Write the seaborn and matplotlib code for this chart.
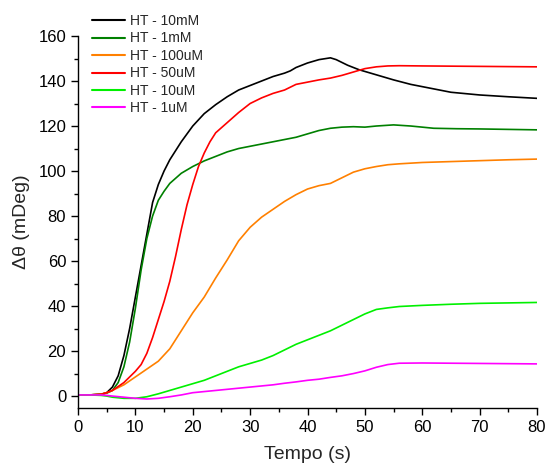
import matplotlib
matplotlib.use("Agg")
import matplotlib.pyplot as plt
import seaborn as sns
import pandas as pd
import numpy as np
from matplotlib.ticker import MultipleLocator

# ---- data ----
labels = ["HT - 10mM", "HT - 1mM", "HT - 100uM", "HT - 50uM", "HT - 10uM", "HT - 1uM"]
colors = ["#000000", "#008000", "#FF8000", "#FF0000", "#00F000", "#FF00FF"]

x_10mM = [0, 2, 4, 5, 6, 7, 8, 9, 10, 11, 12, 13, 14, 15, 16, 17, 18, 20, 22, 24, 26, 28, 30, 32, 34, 36, 37, 38, 40, 42, 44, 45, 47, 49, 51, 53, 55, 58, 61, 65, 70, 75, 80]
y_10mM = [0.5, 0.5, 0.8, 1.5, 4, 9, 18, 30, 44, 58, 72, 86, 94, 100, 105, 109, 113, 120, 125.5, 129.5, 133, 136, 138, 140, 142, 143.5, 144.5, 146, 148, 149.5, 150.3, 149.5, 147, 145, 143.5, 142, 140.5, 138.5, 137, 135, 133.8, 133, 132.3]

x_1mM = [0, 2, 4, 5, 6, 7, 8, 9, 10, 11, 12, 13, 14, 15, 16, 18, 20, 22, 24, 26, 28, 30, 32, 34, 36, 38, 40, 42, 44, 46, 48, 50, 52, 55, 58, 62, 66, 70, 75, 80]
y_1mM = [0.5, 0.5, 0.8, 1.3, 2.5, 6, 13, 24, 39, 56, 70, 80, 87, 91, 94.5, 99, 102, 104.5, 106.5, 108.5, 110, 111, 112, 113, 114, 115, 116.5, 118, 119, 119.5, 119.7, 119.5, 120, 120.5, 120, 119, 118.8, 118.7, 118.5, 118.3]

x_100uM = [0, 2, 4, 5, 6, 8, 10, 12, 14, 16, 18, 20, 22, 24, 26, 28, 30, 32, 34, 36, 38, 40, 42, 44, 46, 48, 50, 52, 54, 56, 60, 65, 70, 75, 80]
y_100uM = [0.5, 0.5, 0.8, 1.5, 2.5, 5, 8.5, 12, 15.5, 21, 29, 37, 44, 52.5, 60.5, 69, 75, 79.5, 83, 86.5, 89.5, 92, 93.5, 94.5, 97, 99.5, 101, 102, 102.8, 103.2, 103.8, 104.2, 104.6, 105, 105.3]

x_50uM = [0, 2, 4, 5, 6, 8, 10, 11, 12, 13, 14, 15, 16, 17, 18, 19, 20, 21, 22, 23, 24, 26, 28, 30, 32, 34, 36, 38, 40, 42, 44, 46, 48, 50, 52, 54, 56, 60, 65, 70, 75, 80]
y_50uM = [0.5, 0.5, 0.8, 1.5, 2.5, 6, 11, 14, 19, 26, 34, 42, 51, 62, 74, 85, 94, 102, 108, 113, 117, 121.5, 126, 130, 132.5, 134.5, 136, 138.5, 139.5, 140.5, 141.3, 142.5, 144, 145.5, 146.3, 146.7, 146.8, 146.7, 146.6, 146.5, 146.4, 146.3]

x_10uM = [0, 2, 4, 5, 6, 8, 10, 12, 14, 16, 18, 20, 22, 24, 26, 28, 30, 32, 34, 36, 38, 40, 42, 44, 46, 48, 50, 52, 54, 56, 60, 65, 70, 75, 80]
y_10uM = [0.5, 0.5, 0.3, 0, -0.5, -1, -1, -0.3, 1, 2.5, 4, 5.5, 7, 9, 11, 13, 14.5, 16, 18, 20.5, 23, 25, 27, 29, 31.5, 34, 36.5, 38.5, 39.2, 39.8, 40.3, 40.8, 41.2, 41.4, 41.6]

x_1uM = [0, 2, 4, 5, 6, 8, 10, 12, 14, 16, 18, 20, 22, 24, 26, 28, 30, 32, 34, 36, 38, 40, 42, 44, 46, 48, 50, 52, 54, 56, 60, 65, 70, 75, 80]
y_1uM = [0.5, 0.5, 0.5, 0.3, 0, -0.5, -1, -1.3, -1, -0.3, 0.5, 1.5, 2, 2.5, 3, 3.5, 4, 4.5, 5, 5.7, 6.3, 7, 7.5, 8.3, 9, 10, 11.2, 12.8, 14, 14.6, 14.7, 14.6, 14.5, 14.4, 14.3]

series_x = [x_10mM, x_1mM, x_100uM, x_50uM, x_10uM, x_1uM]
series_y = [y_10mM, y_1mM, y_100uM, y_50uM, y_10uM, y_1uM]

frames = []
for lab, xs, ys in zip(labels, series_x, series_y):
    frames.append(pd.DataFrame({"Tempo": xs, "Delta": ys, "Amostra": lab}))
df = pd.concat(frames, ignore_index=True)

# ---- style ----
sns.set_style("ticks")
plt.rcParams["font.family"] = ["Liberation Sans", "DejaVu Sans"]

fig = plt.figure(figsize=(5.47, 4.71), dpi=100)
ax = fig.add_axes([78/547, 1-408/471, (537-78)/547, (408-36)/471])

sns.lineplot(data=df, x="Tempo", y="Delta", hue="Amostra", hue_order=labels,
             palette=dict(zip(labels, colors)), linewidth=1.2, ax=ax,
             estimator=None, sort=False)

ax.set_xlim(0, 80)
ax.set_ylim(-5.3, 160)
ax.xaxis.set_major_locator(MultipleLocator(10))
ax.xaxis.set_minor_locator(MultipleLocator(5))
ax.yaxis.set_major_locator(MultipleLocator(20))
ax.yaxis.set_minor_locator(MultipleLocator(10))
ax.tick_params(axis="both", which="major", direction="out", length=5, width=1,
               labelsize=12, color="black", labelcolor="black")
ax.tick_params(axis="both", which="minor", direction="out", length=3, width=1, color="black")
for s in ["top", "right"]:
    ax.spines[s].set_visible(False)
for s in ["left", "bottom"]:
    ax.spines[s].set_color("black")
    ax.spines[s].set_linewidth(1)

ax.set_xlabel("Tempo (s)", fontsize=14, labelpad=8)
ax.set_ylabel("Δθ (mDeg)", fontsize=14, labelpad=6)

leg = ax.legend(loc="upper left", bbox_to_anchor=(92/547, 1-14/471),
                bbox_transform=fig.transFigure, frameon=False, fontsize=10,
                handlelength=2.4, handletextpad=0.3, labelspacing=0.25,
                borderpad=0, borderaxespad=0)
for line in leg.get_lines():
    line.set_linewidth(1.5)

fig.savefig("out.png", dpi=100)
